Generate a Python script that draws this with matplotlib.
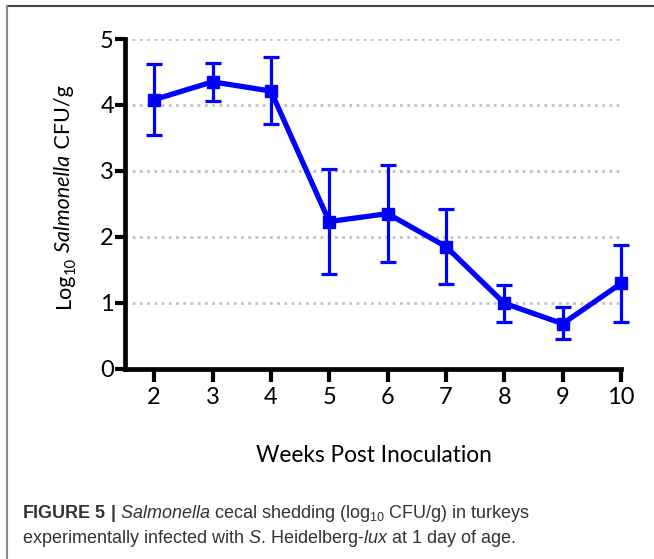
import matplotlib
matplotlib.use("Agg")
import matplotlib.pyplot as plt
import numpy as np

# weekly cecal shedding, log10 CFU/g (mean with error bar ends)
weeks = [2, 3, 4, 5, 6, 7, 8, 9, 10]
means = [4.08, 4.35, 4.21, 2.23, 2.35, 1.85, 0.99, 0.68, 1.29]
upper = [4.62, 4.64, 4.73, 3.03, 3.09, 2.42, 1.27, 0.93, 1.88]
lower = [3.55, 4.06, 3.71, 1.43, 1.62, 1.28, 0.71, 0.45, 0.71]
y_ticks = [0, 1, 2, 3, 4, 5]

BLUE = "#0000ff"
W, H = 654, 559

plt.rcParams["mathtext.fontset"] = "custom"
plt.rcParams["mathtext.rm"] = "Liberation Sans"
plt.rcParams["mathtext.it"] = "Liberation Sans:italic"
plt.rcParams["mathtext.bf"] = "Liberation Sans:bold"

fig = plt.figure(figsize=(W / 100, H / 100), dpi=100)
ax = fig.add_axes([125 / W, 1 - 368.5 / H, 496 / W, 329.5 / H])

means = np.array(means)
yerr = [means - np.array(lower), np.array(upper) - means]
line, caps, bars = ax.errorbar(weeks, means, yerr=yerr, color=BLUE, lw=3.8,
                               marker="s", markersize=9, elinewidth=2.3,
                               capsize=6, capthick=2.3, zorder=3)
for a in [line, *caps, *bars]:
    a.set_clip_on(False)

ax.set_xlim(1.5, 10)
ax.set_ylim(0, 5)
ax.set_xticks(weeks)
ax.set_yticks(y_ticks)
ax.set_xticklabels([str(w) for w in weeks], family="Lato", fontsize=17)
ax.set_yticklabels([str(v) for v in y_ticks], family="Lato", fontsize=17)
ax.tick_params(axis="y", length=7, width=3, pad=1)
ax.tick_params(axis="x", length=9, width=3, pad=4)
ax.yaxis.grid(True, color="#c2c2c2", lw=2, linestyle=(0, (1, 1.6)))
ax.set_axisbelow(True)
for side in ["top", "right"]:
    ax.spines[side].set_visible(False)
for side in ["left", "bottom"]:
    ax.spines[side].set_linewidth(3.4)
    ax.spines[side].set_capstyle("projecting")

# axis titles
fig.text(374 / W, 1 - 462 / H, "Weeks Post Inoculation", family="Lato",
         fontsize=16.3, ha="center", va="baseline")

renderer = fig.canvas.get_renderer()
pieces = [("Log", "normal", 15.5, 0), ("10", "normal", 10.5, 5),
          (" Salmonella", "italic", 15.5, 0), (" CFU/g", "normal", 15.5, 0)]
y = 1 - 308 / H
for txt, style, size, shift in pieces:
    t = fig.text((70 + shift) / W, y, txt, family="Lato", fontstyle=style,
                 fontsize=size, rotation=90, rotation_mode="anchor",
                 ha="left", va="baseline")
    y += t.get_window_extent(renderer).height / H

# figure frame (top and left rules)
fig.add_artist(plt.Line2D([7 / W, 1], [1 - 6 / H, 1 - 6 / H], color="#444444", lw=1.5))
fig.add_artist(plt.Line2D([7 / W, 7 / W], [0, 1 - 6 / H], color="#888888", lw=1.5))

# caption
cap_color = "#333333"
fig.text(22 / W, 1 - 518 / H,
         r"$\mathbf{FIGURE\ 5\ |}$ $\mathit{Salmonella}$ cecal shedding (log$_{10}$ CFU/g) in turkeys",
         family="Liberation Sans", fontsize=13, color=cap_color, va="baseline")
fig.text(22 / W, 1 - 543 / H,
         r"experimentally infected with $\mathit{S}$. Heidelberg-$\mathit{lux}$ at 1 day of age.",
         family="Liberation Sans", fontsize=13, color=cap_color, va="baseline")

fig.savefig("out.png", dpi=100)
